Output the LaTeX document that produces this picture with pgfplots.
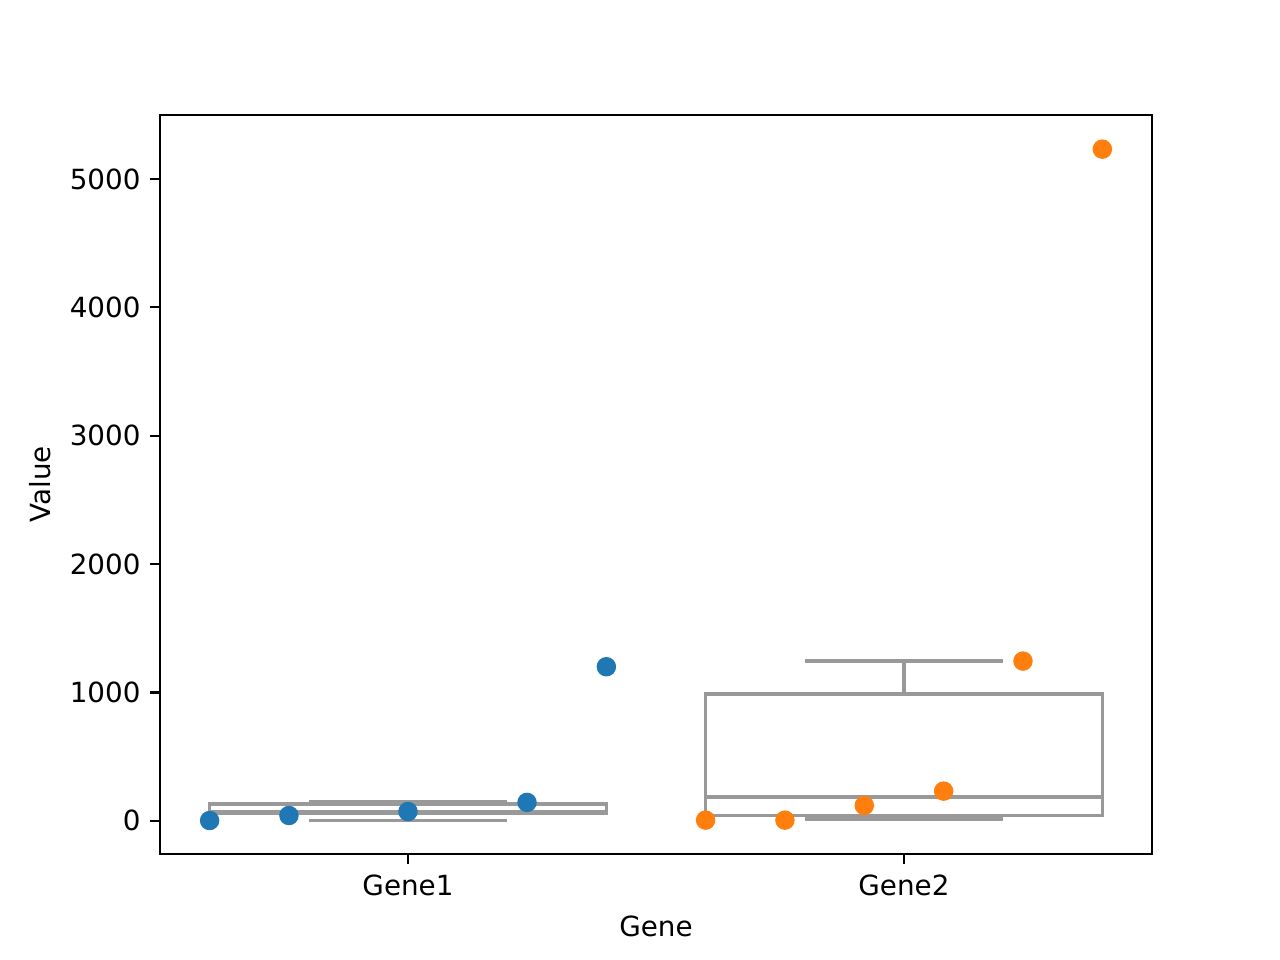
\documentclass[border=0pt]{standalone}
\usepackage{fontspec}
\setmainfont{DejaVu Sans}
\usepackage{pgfplots}
\pgfplotsset{compat=1.18}

\definecolor{mblue}{HTML}{1F77B4}
\definecolor{morange}{HTML}{FF7F0E}
\definecolor{boxgray}{HTML}{999999}

\begin{document}
\fontsize{10}{12}\selectfont
\begin{tikzpicture}
\path[use as bounding box] (0,0) rectangle (460.8pt,345.6pt);
\begin{axis}[
at={(57.6pt,38.2pt)}, anchor=south west,
scale only axis,
width=357.1pt, height=266pt,
xmin=-0.5, xmax=1.5,
ymin=-258, ymax=5498,
xtick={0,1}, xticklabels={Gene1,Gene2},
ytick={0,1000,2000,3000,4000,5000},
xlabel={Gene}, ylabel={Value},
axis line style={line width=0.8pt},
tick style={black, line width=0.8pt},
major tick length=3.5pt,
tick align=outside,
xtick pos=bottom, ytick pos=left,
/pgf/number format/assume math mode=true,
/pgf/number format/1000 sep={},
tick label style={font=\fontsize{10}{12}\selectfont},
xticklabel style={yshift=-0.7pt},
label style={font=\fontsize{10}{12}\selectfont},
box/.style={boxgray, line width=1.25pt, line join=miter, mark=none},
]
% Gene1 box
\addplot[box] coordinates {(-0.4,55) (0.4,55) (0.4,132) (-0.4,132) (-0.4,55)} -- cycle;
\addplot[box] coordinates {(-0.4,70) (0.4,70)};
\addplot[box] coordinates {(0,132) (0,146)};
\addplot[box] coordinates {(-0.2,146) (0.2,146)};
\addplot[box] coordinates {(0,55) (0,2)};
\addplot[box] coordinates {(-0.2,2) (0.2,2)};
% Gene2 box
\addplot[box] coordinates {(0.6,41) (1.4,41) (1.4,989) (0.6,989) (0.6,41)} -- cycle;
\addplot[box] coordinates {(0.6,185) (1.4,185)};
\addplot[box] coordinates {(1,989) (1,1246)};
\addplot[box] coordinates {(0.8,1246) (1.2,1246)};
\addplot[box] coordinates {(1,41) (1,13)};
\addplot[box] coordinates {(0.8,13) (1.2,13)};
% points
\addplot[only marks, mark=*, mark size=3.3pt, color=mblue,
  mark options={draw=none, fill=mblue}]
  coordinates {(-0.4,2) (-0.24,41) (0,72) (0.24,143) (0.4,1200)};
\addplot[only marks, mark=*, mark size=3.3pt, color=morange,
  mark options={draw=none, fill=morange}]
  coordinates {(0.6,5) (0.76,5) (0.92,119) (1.08,231) (1.24,1244) (1.4,5232)};
\end{axis}
\end{tikzpicture}
\end{document}
